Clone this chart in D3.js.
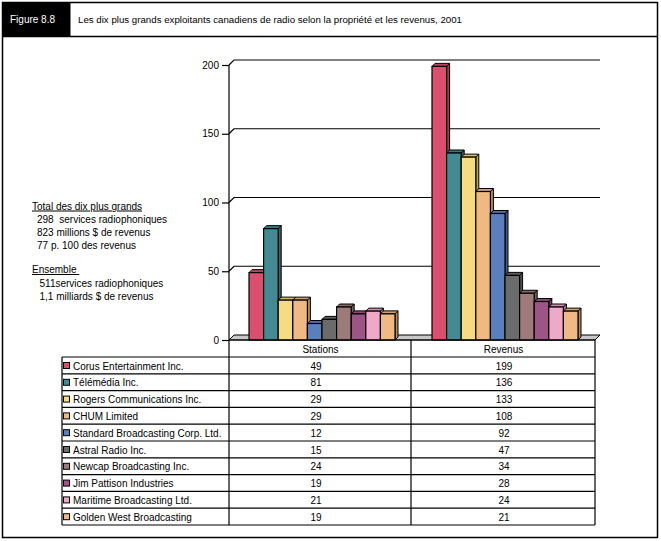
<!DOCTYPE html>
<html><head><meta charset="utf-8">
<script src="https://cdn.jsdelivr.net/npm/d3@7"></script>
<style>body{margin:0;background:#fff}svg{display:block;font-family:"Liberation Sans",Arial,sans-serif}text{white-space:pre}</style>
</head><body><svg id="c" width="661" height="541"></svg>
<script>
const companies = ["Corus Entertainment Inc.","Télémédia Inc.","Rogers Communications Inc.","CHUM Limited","Standard Broadcasting Corp. Ltd.","Astral Radio Inc.","Newcap Broadcasting Inc.","Jim Pattison Industries","Maritime Broadcasting Ltd.","Golden West Broadcasting"];
const stations = [49,81,29,29,12,15,24,19,21,19];
const revenus = [199,136,133,108,92,47,34,28,24,21];
const seriesNames = ["Stations","Revenus"];
const colors = ["#d94f6e","#458a92","#f5dc82","#f0b882","#5a7fbd","#6b6b6b","#9e7b7b","#9c5585","#f0a8c8","#f0b882"];
const yTicks = [0,50,100,150,200];
const titleText = "Les dix plus grands exploitants canadiens de radio selon la propriété et les revenus, 2001";
const figLabel = "Figure 8.8";
const noteTop = ["298  services radiophoniques","823 millions $ de revenus","77 p. 100 des revenus"];
const noteBottom = ["511services radiophoniques","1,1 milliards $ de revenus"];

const svg = d3.select("#c");
const values = [stations, revenus];

// frame
svg.append("rect").attr("x",2.5).attr("y",2.5).attr("width",655).attr("height",535).attr("fill","none").attr("stroke","#000").attr("stroke-width",1.5);
svg.append("rect").attr("x",2.5).attr("y",2.5).attr("width",68).attr("height",34).attr("fill","#000");
svg.append("line").attr("x1",2.5).attr("x2",657.5).attr("y1",36.5).attr("y2",36.5).attr("stroke","#000").attr("stroke-width",1.5);
svg.append("text").attr("x",10).attr("y",23).attr("fill","#fff").attr("font-size",10).text(figLabel);
svg.append("text").attr("x",78).attr("y",23).attr("fill","#000").attr("font-size",9.7).text(titleText);

// scales
const y = d3.scaleLinear().domain([0,200]).range([340,65]);
const x0 = d3.scaleBand().domain(seriesNames).range([229,595]);
const x1 = d3.scaleBand().domain(companies).range([20,166]);
const D = 5, d = 3;
const plotRight = 600;

// floor
svg.append("path").attr("d",`M229,340 L${229+D},${340-D} L${plotRight},${340-D} L${plotRight-D},340 Z`).attr("fill","#c8c8c8").attr("stroke","#000").attr("stroke-width",1);

// gridlines (back wall)
yTicks.filter(t=>t>0).forEach(t=>{
  const yy = y(t);
  svg.append("path").attr("d",`M229,${yy} L${229+D},${yy-D} L${plotRight},${yy-D}`).attr("fill","none").attr("stroke","#000").attr("stroke-width",1.2);
});

// axis
const ax = svg.append("g").attr("transform","translate(229,0)").call(d3.axisLeft(y).tickValues(yTicks).tickSize(7).tickPadding(3));
ax.select(".domain").remove();
ax.selectAll("line").attr("stroke","#000").attr("stroke-width",1.2);
ax.selectAll("text").attr("font-size",10).attr("font-family","Liberation Sans, Arial, sans-serif").attr("fill","#000");
svg.append("line").attr("x1",229).attr("x2",229).attr("y1",y(200)).attr("y2",525).attr("stroke","#000").attr("stroke-width",1.2);

// bars
const g = svg.append("g");
seriesNames.forEach((s,si)=>{
  companies.forEach((c,ci)=>{
    const v = values[si][ci];
    const xl = x0(s)+x1(c), w = x1.bandwidth(), yt = y(v), yb = y(0);
    const col = d3.color(colors[ci]);
    g.append("path").attr("d",`M${xl+w},${yt} L${xl+w+d},${yt-d} L${xl+w+d},${yb-d} L${xl+w},${yb} Z`).attr("fill",col.darker(0.8)).attr("stroke","#000").attr("stroke-width",1);
    g.append("path").attr("d",`M${xl},${yt} L${xl+d},${yt-d} L${xl+w+d},${yt-d} L${xl+w},${yt} Z`).attr("fill",col.darker(0.4)).attr("stroke","#000").attr("stroke-width",1);
    g.append("rect").attr("x",xl).attr("y",yt).attr("width",w).attr("height",yb-yt).attr("fill",colors[ci]).attr("stroke","#000").attr("stroke-width",1.2);
  });
});

// table
const rowH = 16.8, top0 = 357;
const tbl = svg.append("g");
tbl.append("line").attr("x1",229).attr("x2",595).attr("y1",340).attr("y2",340).attr("stroke","#000").attr("stroke-width",1.2);
for(let i=0;i<=companies.length;i++){
  const yy = top0 + i*rowH;
  tbl.append("line").attr("x1",62).attr("x2",595).attr("y1",yy).attr("y2",yy).attr("stroke","#000").attr("stroke-width",1.2);
}
[[62,top0],[411,340],[595,340]].forEach(([xx,y1])=>{
  tbl.append("line").attr("x1",xx).attr("x2",xx).attr("y1",y1).attr("y2",top0+companies.length*rowH).attr("stroke","#000").attr("stroke-width",1.2);
});
seriesNames.forEach(s=>{
  tbl.append("text").attr("x",x0(s)+x0.bandwidth()/2).attr("y",353).attr("text-anchor","middle").attr("font-size",10).text(s);
});
companies.forEach((c,ci)=>{
  const yy = top0 + ci*rowH;
  tbl.append("rect").attr("x",63.5).attr("y",yy+5.5).attr("width",6).attr("height",6).attr("fill",colors[ci]).attr("stroke","#000").attr("stroke-width",1);
  tbl.append("text").attr("x",73).attr("y",yy+12.5).attr("font-size",10).text(c);
  tbl.append("text").attr("x",316).attr("y",yy+12.5).attr("text-anchor","middle").attr("font-size",10).text(stations[ci]);
  tbl.append("text").attr("x",504).attr("y",yy+12.5).attr("text-anchor","middle").attr("font-size",10).text(revenus[ci]);
});

// notes
svg.append("text").attr("x",32).attr("y",209.5).attr("font-size",10).attr("text-decoration","underline").text("Total des dix plus grands");
noteTop.forEach((t,i)=>svg.append("text").attr("x",37).attr("y",222.5+13*i).attr("font-size",10).text(t));
svg.append("text").attr("x",32).attr("y",273).attr("font-size",10).attr("text-decoration","underline").text("Ensemble\u00a0");
noteBottom.forEach((t,i)=>svg.append("text").attr("x",39.5).attr("y",286.5+13*i).attr("font-size",10).text(t));
</script></body></html>
